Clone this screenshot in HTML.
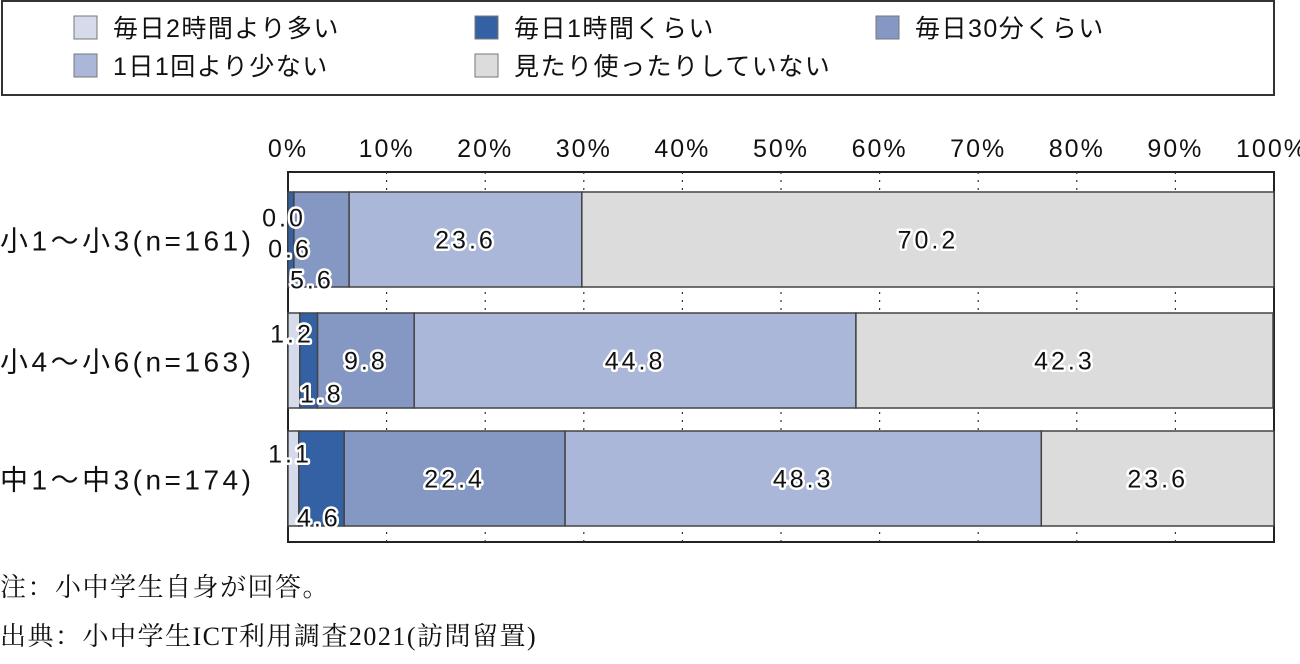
<!DOCTYPE html>
<html><head><meta charset="utf-8"><style>
body{margin:0;background:#fff;width:1300px;height:659px;overflow:hidden;font-family:"Liberation Sans","Noto Sans CJK JP",sans-serif}
</style></head><body>
<svg id="c" width="1300" height="659" xmlns="http://www.w3.org/2000/svg"></svg>
<script>
const categories=["小1〜小3(n=161)","小4〜小6(n=163)","中1〜中3(n=174)"];
const seriesNames=["毎日2時間より多い","毎日1時間くらい","毎日30分くらい","1日1回より少ない","見たり使ったりしていない"];
const s1=[0.0,1.2,1.1];
const s2=[0.6,1.8,4.6];
const s3=[5.6,9.8,22.4];
const s4=[23.6,44.8,48.3];
const s5=[70.2,42.3,23.6];
const tickLabels=["0%","10%","20%","30%","40%","50%","60%","70%","80%","90%","100%"];
const series=[s1,s2,s3,s4,s5];
const colors=["#d5dbea","#3461a3","#8598c4","#aab7d8","#dcdcdc"];
const NS="http://www.w3.org/2000/svg";
const svg=document.getElementById('c');
function el(t,a,p){const e=document.createElementNS(NS,t);for(const k in a)e.setAttribute(k,a[k]);(p||svg).appendChild(e);return e;}
const X0=288,X1=1274,Y0=172,Y1=542;
const x=v=>X0+(X1-X0)*v/100;
const rowTop=[192,313,431],rowH=95;
const lg=el('rect',{x:2,y:1,width:1272,height:94,fill:'#fff',stroke:'#333','stroke-width':2});


const lpos=[[74,16],[475,16],[876,16],[74,54],[475,54]];
seriesNames.forEach((n,i)=>{
 const g=el('g',{});
 
 
 el('rect',{x:lpos[i][0],y:lpos[i][1],width:23,height:23,fill:colors[i],stroke:'#777','stroke-width':1},g);
 const t=el('text',{x:lpos[i][0]+39,y:lpos[i][1]+21,'font-size':25,'letter-spacing':1.5,fill:'#111'},g);t.textContent=n;
});
const fr=el('rect',{x:X0,y:Y0,width:X1-X0,height:Y1-Y0,fill:'#fff',stroke:'#222','stroke-width':2});


tickLabels.forEach((l,i)=>{
 const v=i*10;
 const t=el('text',{x:x(v)+(i==10?-2:0),y:157,'font-size':25,'letter-spacing':2,'text-anchor':'middle',fill:'#111'});
 
 
 t.textContent=l;
 if(i>0&&i<10){const gl=el('line',{x1:x(v),x2:x(v),y1:Y0,y2:Y1,stroke:'#333','stroke-width':1.2,'stroke-dasharray':'2,6'});
 
 }
});
const smallOff=[[[-4,-22],[2,9],[18,40]],[[4,-27],[22,33],null],[[2,-25],[20,39],null]];
const labels=[];
categories.forEach((c,r)=>{
 const lab=el('text',{x:0,y:rowTop[r]+rowH/2+11,'font-size':28,'letter-spacing':3.5,fill:'#111'});
 
 
 lab.textContent=c;
 let acc=0;
 series.forEach((s,i)=>{
  const v=s[r];
  const b=el('rect',{x:x(acc),y:rowTop[r],width:x(acc+v)-x(acc),height:rowH,fill:colors[i],stroke:'#444','stroke-width':1.5});
  
  
  let tx=(x(acc)+x(acc+v))/2,ty=rowTop[r]+rowH/2+9;
  const off=(i<3&&smallOff[r][i]&&v<7)?smallOff[r][i]:null;
  if(off){tx=x(acc)+off[0];ty=rowTop[r]+rowH/2+9+off[1];}
  labels.push([tx,ty,v]);
  acc+=v;
 });
});
labels.forEach(([tx,ty,v])=>{
  const t=el('text',{x:tx,y:ty,'font-size':25,'letter-spacing':3,'text-anchor':'middle',fill:'#111',stroke:'#fff','stroke-width':5,'paint-order':'stroke','stroke-linejoin':'round'});
  
  
  t.textContent=v.toFixed(1);
});
[["注：小中学生自身が回答。",596],["出典：小中学生ICT利用調査2021(訪問留置)",645]].forEach(([s,y])=>{
 const t=el('text',{x:0,y:y,'font-size':26,'letter-spacing':1.5,fill:'#111','font-family':'"Liberation Serif","Noto Serif CJK SC",serif'});
 
 
 t.textContent=s;
});
</script>
</body></html>
